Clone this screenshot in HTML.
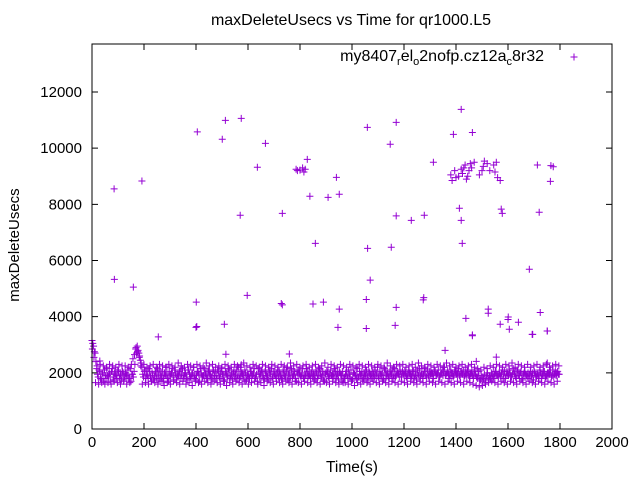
<!DOCTYPE html>
<html><head><meta charset="utf-8">
<style>
html,body{margin:0;padding:0;background:#fff;}
svg{display:block;font-family:"Liberation Sans",sans-serif;}
</style></head>
<body>
<svg id="chart" width="640" height="480" viewBox="0 0 640 480" xmlns="http://www.w3.org/2000/svg">
<rect x="0" y="0" width="640" height="480" fill="#fff"/>
<text x="351" y="25" text-anchor="middle" font-size="16">maxDeleteUsecs vs Time for qr1000.L5</text>
<g id="axes"></g>
<g id="marks"></g>
<text x="352" y="472" text-anchor="middle" font-size="15.5">Time(s)</text>
<text x="0" y="0" transform="translate(19,245) rotate(-90)" text-anchor="middle" font-size="15">maxDeleteUsecs</text>
<g>
<text x="544" y="61" text-anchor="end" font-size="16">my8407<tspan font-size="11" dy="4">r</tspan><tspan dy="-4">el</tspan><tspan font-size="11" dy="4">o</tspan><tspan dy="-4">2nofp.cz12a</tspan><tspan font-size="11" dy="4">c</tspan><tspan dy="-4">8r32</tspan></text>
<path d="M570.5 57h7M574 53.5v7" stroke="#9400d3" stroke-width="1" fill="none"/>
</g>
<rect x="92" y="44" width="520" height="385" fill="none" stroke="#000" stroke-width="1"/>
</svg>
<script>
const xTicks=[0,200,400,600,800,1000,1200,1400,1600,1800,2000];
const yTicks=[0,2000,4000,6000,8000,10000,12000];
const outlierTimes=[85,192,405,513,574,501,667,636,800,785,790,810,815,820,828,940,838,908,951,570,732,859,86,159,597,401,728,732,850,890,951,400,403,509,946,255,515,759,1358,1463,1555,1478,1695,1751,1751,30,574,
1420,1059,1170,1390,1463,1147,1313,1509,1395,1400,1410,1420,1425,1430,1435,1440,1445,1450,1455,1460,1470,1490,1500,1505,1520,1530,1545,1550,1555,1560,1570,1380,1385,1713,1763,1774,1765,
1413,1170,1228,1278,1420,1574,1578,1720,1060,1151,1424,1682,1070,1055,1274,1276,1170,1524,1524,1724,1055,1166,1438,1601,1600,1570,1640,1605,1463,1693,1751];
const outlierValues=[8550,8830,10580,10990,11060,10320,10170,9320,9220,9250,9200,9300,9150,9250,9600,8960,8290,8250,8360,7610,7680,6610,5330,5050,4760,4520,4470,4420,4450,4520,4270,3620,3650,3730,3620,3280,2660,2670,2800,3350,2560,2410,3370,3490,2350,2420,2290,
11380,10740,10920,10490,10560,10140,9500,9540,9200,8950,9000,9250,9100,9300,9400,8900,9000,9200,9450,9300,9500,9050,9200,9350,9450,9200,9400,9150,9500,8950,8850,9050,8850,9400,8820,9340,9380,
7860,7590,7430,7610,7430,7830,7680,7720,6430,6470,6610,5690,5300,4610,4600,4680,4330,4270,4120,4150,3580,3690,3940,3990,3900,3730,3800,3550,3320,3370,3490];
const bandStep=6;
const bandA=[3150,2950,2700,2150,1850,2050,1750,1950,2100,1800,1900,2000,1700,2150,1850,1950,1800,2050,1900,1750,
2000,1850,1950,2100,1800,1700,1950,2050,2850,2950,2700,2450,2200,1850,2100,1950,1800,2050,1700,1900,
1850,2000,2150,1750,1900,2050,1800,1950,2200,1700,1850,2000,1900,2100,1750,1950,2050,1800,2150,1900,
2000,1750,2100,1850,1950,2200,1800,1900,2050,1700,2000,1850,2150,1950,1800,2050,1900,1750,2100,2000,
1900,2050,1800,2150,1950,1700,2000,1850,2100,1900,1750,2050,1950,1800,2200,1850,2000,1900,2100,1750,
1950,1800,2050,1900,2150,1850,1700,2000,1950,2100,1800,2050,1900,1750,2000,2150,1850,1950,1800,2100,
2050,1900,1750,2000,1850,2200,1950,1800,2100,1900,2050,1700,1950,2000,1850,2150,1800,1900,2050,1950,
1800,2100,1950,1750,2000,1900,2150,1850,2050,1700,1950,2000,1800,2100,1900,1850,2050,1950,1750,2000,
1900,1650,1850,2050,1800,1950,2100,1750,2000,1900,2150,1850,1950,2050,1800,1900,2100,1750,2000,1950,
2050,1850,1900,2200,1800,1950,2000,1750,2100,1900,1850,2050,1950,1800,2150,1900,2000,1850,1950,2050,
1900,2000,1800,2100,1950,1850,2050,1900,1750,2000,2150,1950,1800,2050,1900,2100,1850,1950,2000,1800,
2050,1950,2100,1850,2000,1900,2200,1950,2050,1800,2100,2000,1900,2050,1950,2150,1850,2000,2100,1900,
1950,2050,1850,2000,1900,2100,1950,1800,2050,1750,1700,1800,1650,1900,1750,1850,2000,1800,1950,2050,
1900,2000,1850,2100,1950,1800,2050,1900,2000,1850,2150,1950,1800,2100,1900,2050,1750,2000,1950,1850,
1800,2050,1900,1750,2000,1850,1950,2100,1800,1900,2050,1850,2000,1950,2100,1900,1850,2050,2000,1950];
const bandB=[3050,2750,2400,1950,2100,1800,2000,1700,1900,2150,1850,1950,2050,1750,2000,1900,2100,1800,1950,2050,
1750,2000,1900,1800,2150,1950,1850,2300,2700,2800,2600,2350,1950,2050,1800,1900,2150,1850,2000,1750,
2050,1800,1950,2100,1850,1700,2000,1900,1800,2050,1950,2150,1750,2000,1850,1900,2100,1950,1800,2000,
1850,2100,1950,1800,2000,1900,1750,2050,1950,2150,1850,1900,2000,1800,2100,1950,1850,2050,1900,1800,
2100,1850,2000,1950,1750,2050,1900,2150,1800,1950,2000,1850,2100,1900,1800,2050,1950,1750,2000,1900,
1850,2050,1900,2000,1800,1950,2150,1850,2050,1900,1750,2000,1850,2100,1950,1800,2050,1900,2000,1850,
1950,1800,2100,1900,2050,1750,2000,2150,1850,1950,1800,2050,2100,1900,1950,1800,2000,2150,1850,1900,
2000,1850,1900,2050,1800,2100,1950,1900,1750,2000,2050,1850,1950,1900,2000,2150,1800,1950,2050,1900,
2050,1800,1950,1900,2100,1850,1750,2000,1950,1800,1850,2050,1900,1750,2000,1950,1850,2050,1900,1800,
1950,2100,2000,1850,2050,1900,1800,2150,1950,2000,1800,1950,2100,1900,1850,2050,1950,2100,1850,2000,
2050,1850,1950,2000,1900,2050,1800,1950,2100,1900,1850,2000,1950,2150,1850,1900,2050,2000,1950,2100,
1900,2000,1850,1950,2100,2050,1900,2000,1950,1900,2000,1850,2100,1950,2000,1900,2050,1950,1850,2000,
2100,1900,1950,2050,1800,1950,1850,1900,1750,1900,1850,1950,1750,2000,1900,1800,1950,1850,2050,1900,
1850,1950,2000,1800,2050,1900,1950,2100,1850,1950,2000,1850,2050,1900,2000,1800,1950,2050,1900,2000,
1950,1850,2000,2050,1900,1950,1800,2000,1950,2050,1850,1900,2000,1950,1850,2100,1950,1900,2050,1950];
const bandC=[2850,2550,1650,2250,1600,2300,1650,2250,1600,2200,1650,2300,1600,2250,1700,2200,1650,2300,1600,2250,
1700,2250,1600,2200,1650,2300,2500,2650,2900,2750,2550,2250,1600,2300,1650,2200,1600,2250,1700,2300,
1650,2200,1600,2300,1700,2250,1550,2200,1650,2300,1600,2250,1700,2200,1650,2350,1600,2250,1700,2200,
1600,2300,1650,2250,1550,2200,1700,2300,1650,2250,1600,2200,1700,2350,1650,2250,1600,2300,1700,2200,
1650,2250,1600,2200,1700,2300,1550,2250,1650,2200,1600,2300,1700,2250,1650,2200,1600,2350,1700,2250,
1600,2200,1650,2300,1700,2250,1600,2200,1650,2300,1550,2250,1700,2200,1650,2300,1600,2250,1700,2200,
1650,2300,1600,2250,1700,2200,1650,2350,1600,2250,1700,2300,1650,2200,1600,2250,1700,2300,1650,2200,
1600,2250,1700,2300,1650,2200,1600,2250,1700,2350,1650,2200,1600,2300,1700,2250,1650,2200,1600,2300,
1700,2250,1650,2200,1600,2300,1700,2250,1550,2200,1650,2300,1600,2250,1700,2200,1650,2300,1600,2250,
1700,2200,1650,2300,1600,2250,1700,2200,1650,2350,1600,2250,1700,2200,1650,2300,1600,2250,1700,2300,
1650,2200,1600,2250,1700,2300,1650,2200,1600,2350,1700,2250,1650,2200,1600,2300,1700,2250,1650,2200,
1600,2300,1700,2250,1650,2200,1600,2350,1700,2250,1650,2300,1600,2200,1700,2250,1650,2300,1600,2200,
1700,2250,1650,2300,1600,2200,1550,2150,1500,2100,1550,2200,1600,2150,1650,2250,1700,2200,1650,2300,
1600,2250,1700,2200,1650,2300,1600,2250,1700,2350,1650,2200,1600,2300,1700,2250,1650,2200,1600,2300,
1700,2200,1650,2250,1600,2300,1700,2200,1650,2250,1600,2300,1700,2200,1650,2250,1600,2300,1700,2250];
const X0=92,X1=612,Y0=429,Y1=44,XMAX=2000,YMAX=13710;
function sx(v){return X0+(X1-X0)*v/XMAX;}
function sy(v){return Y0-(Y0-Y1)*v/YMAX;}
const NS="http://www.w3.org/2000/svg";
const axes=document.getElementById('axes');
const marks=document.getElementById('marks');
xTicks.forEach(t=>{
  const x=sx(t);
  const p=document.createElementNS(NS,'path');
  p.setAttribute('d',`M${x} ${Y0}v-6M${x} ${Y1}v6`);
  p.setAttribute('stroke','#000');
  
  
  axes.appendChild(p);
  const tx=document.createElementNS(NS,'text');
  tx.setAttribute('x',x);tx.setAttribute('y',447);
  tx.setAttribute('text-anchor','middle');tx.setAttribute('font-size','15');
  tx.textContent=t;
  
  
  axes.appendChild(tx);
});
yTicks.forEach(t=>{
  const y=sy(t);
  const p=document.createElementNS(NS,'path');
  p.setAttribute('d',`M${X0} ${y}h6M${X1} ${y}h-6`);
  p.setAttribute('stroke','#000');
  
  
  axes.appendChild(p);
  const tx=document.createElementNS(NS,'text');
  tx.setAttribute('x',82);tx.setAttribute('y',y+5);
  tx.setAttribute('text-anchor','end');tx.setAttribute('font-size','15');
  tx.textContent=t;
  
  
  axes.appendChild(tx);
});
function cross(t,v,name){
  const x=sx(t),y=sy(v);
  const p=document.createElementNS(NS,'path');
  p.setAttribute('d',`M${x-3.5} ${y}h7M${x} ${y-3.5}v7`);
  p.setAttribute('stroke','#9400d3');
  p.setAttribute('fill','none');
  
  
  marks.appendChild(p);
}
bandA.forEach((v,i)=>cross(i*bandStep,v,'data-point'));
bandB.forEach((v,i)=>cross(i*bandStep+3,v,'data-point'));
bandC.forEach((v,i)=>cross(i*bandStep+1.5,v,'data-point'));
outlierTimes.forEach((t,i)=>cross(t,outlierValues[i],'data-point'));
</script>
</body></html>
